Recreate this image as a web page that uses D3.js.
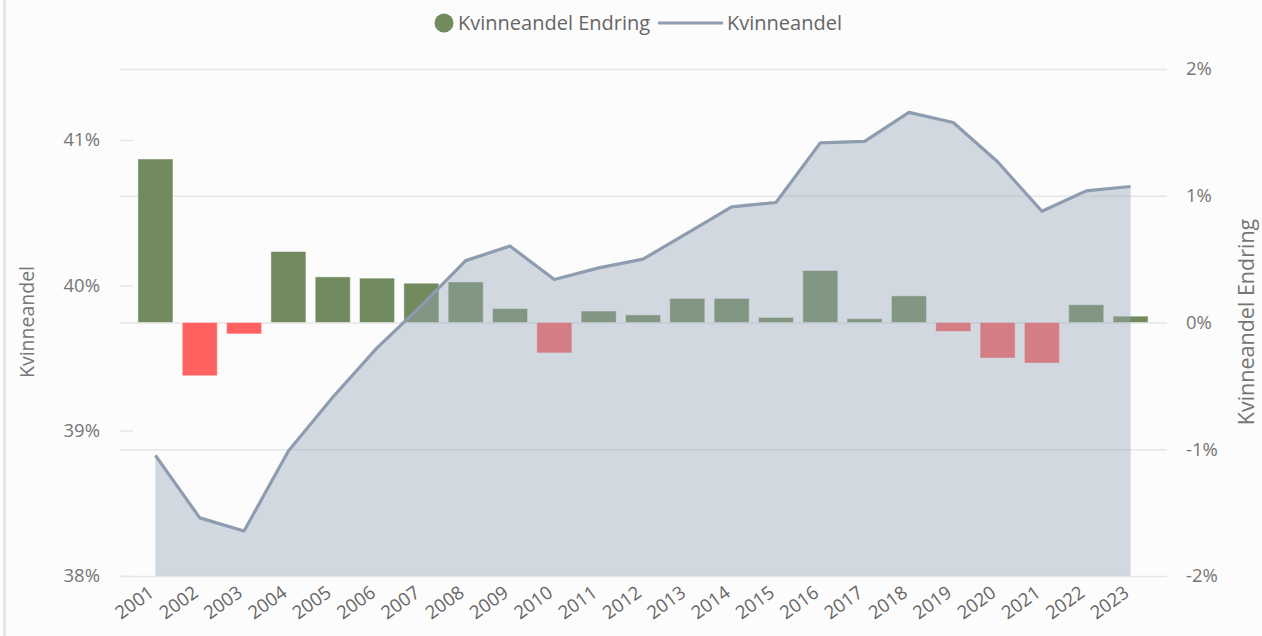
<!DOCTYPE html>
<html>
<head>
<meta charset="utf-8">
<script src="https://cdn.jsdelivr.net/npm/d3@7"></script>
<style>
  html, body { margin: 0; padding: 0; background: #fcfcfc; }
  svg { display: block; font-family: "Open Sans", "Noto Sans", sans-serif; }
</style>
</head>
<body>
<svg id="chart" width="1262" height="636"></svg>
<script>
// Year categories
const years = ["2001","2002","2003","2004","2005","2006","2007","2008","2009","2010","2011","2012",
               "2013","2014","2015","2016","2017","2018","2019","2020","2021","2022","2023"];
// Share of women (%), left axis
const kvinneandel = [38.83, 38.40, 38.31, 38.86, 39.23, 39.57, 39.86, 40.17, 40.27, 40.04, 40.12, 40.18,
                     40.36, 40.54, 40.57, 40.98, 40.99, 41.19, 41.12, 40.85, 40.51, 40.65, 40.68];
// Yearly change (percentage points), right axis
const endring = [1.29, -0.42, -0.09, 0.56, 0.36, 0.35, 0.31, 0.32, 0.11, -0.24, 0.09, 0.06,
                 0.19, 0.19, 0.04, 0.41, 0.03, 0.21, -0.07, -0.28, -0.32, 0.14, 0.05];
// Axis ticks
const leftTicks = [38, 39, 40, 41];
const rightTicks = [-2, -1, 0, 1, 2];

const svg = d3.select("#chart");
const W = 1262, H = 636;

// left border rule
svg.append("line").attr("x1", 4.5).attr("x2", 4.5).attr("y1", 0).attr("y2", H)
  .attr("stroke", "#e6e6e6").attr("stroke-width", 3);

const x = d3.scaleBand().domain(years).range([133.5, 1152.5]).paddingInner(0.21).paddingOuter(0.1);
const yL = d3.scaleLinear().domain([38, 41]).range([576, 140]);
const yR = d3.scaleLinear().domain([-2, 2]).range([576, 69]);
const cx = d => x(d) + x.bandwidth() / 2;

// gridlines from the right axis
svg.append("g").selectAll("line").data(rightTicks).join("line")
  .attr("x1", 120).attr("x2", 1167)
  .attr("y1", d => yR(d) + 0.5).attr("y2", d => yR(d) + 0.5)
  .attr("stroke", "#e6e6e6").attr("stroke-width", 1.5);

// short ticks for the left axis
svg.append("g").selectAll("line").data(leftTicks).join("line")
  .attr("x1", 120).attr("x2", 133)
  .attr("y1", d => yL(d) + 0.5).attr("y2", d => yL(d) + 0.5)
  .attr("stroke", "#e6e6e6").attr("stroke-width", 1.5);

// change bars
svg.append("g").selectAll("rect").data(years).join("rect")
  .attr("x", d => x(d))
  .attr("width", x.bandwidth())
  .attr("y", (d, i) => yR(Math.max(0, endring[i])))
  .attr("height", (d, i) => Math.abs(yR(endring[i]) - yR(0)))
  .attr("fill", (d, i) => endring[i] >= 0 ? "#718a5e" : "#ff6060")
  .attr("stroke", "rgba(255,255,255,0.45)").attr("stroke-width", 1);

// area under the share line
const area = d3.area().x((d, i) => cx(years[i])).y0(yL(38)).y1(d => yL(d));
svg.append("path").datum(kvinneandel).attr("d", area)
  .attr("fill", "rgb(152,166,184)").attr("fill-opacity", 0.42);

const line = d3.line().x((d, i) => cx(years[i])).y(d => yL(d));
svg.append("path").datum(kvinneandel).attr("d", line)
  .attr("fill", "none").attr("stroke", "#8e9cb0").attr("stroke-width", 3.2)
  .attr("stroke-linejoin", "round");

// left axis labels
svg.append("g").selectAll("text").data(leftTicks).join("text")
  .attr("x", 100).attr("y", d => yL(d)).attr("dy", "0.35em")
  .attr("text-anchor", "end").attr("fill", "#767676").attr("font-size", 18.5)
  .text(d => d + "%");

// right axis labels
svg.append("g").selectAll("text").data(rightTicks).join("text")
  .attr("x", 1186).attr("y", d => yR(d)).attr("dy", "0.35em")
  .attr("text-anchor", "start").attr("fill", "#767676").attr("font-size", 18.5)
  .text(d => d + "%");

// axis titles
svg.append("text").attr("transform", "translate(34,322) rotate(-90)")
  .attr("text-anchor", "middle").attr("fill", "#767676").attr("font-size", 19.5)
  .text("Kvinneandel");
svg.append("text").attr("transform", "translate(1254,322) rotate(-90)")
  .attr("text-anchor", "middle").attr("fill", "#767676").attr("font-size", 21.5)
  .text("Kvinneandel Endring");

// year labels
svg.append("g").selectAll("text").data(years).join("text")
  .attr("transform", d => `translate(${cx(d) - 4},590) rotate(-36)`)
  .attr("text-anchor", "end").attr("dy", "0.35em")
  .attr("fill", "#666666").attr("font-size", 18.5)
  .text(d => d);

// legend
const lg = svg.append("g");
lg.append("circle").attr("cx", 444).attr("cy", 23).attr("r", 9.5).attr("fill", "#718a5e");
lg.append("text").attr("x", 458).attr("y", 23).attr("dy", "0.35em")
  .attr("fill", "#666666").attr("font-size", 20).text("Kvinneandel Endring");
lg.append("line").attr("x1", 658).attr("x2", 723).attr("y1", 23).attr("y2", 23)
  .attr("stroke", "#8e9cb0").attr("stroke-width", 3);
lg.append("text").attr("x", 727).attr("y", 23).attr("dy", "0.35em")
  .attr("fill", "#666666").attr("font-size", 20).text("Kvinneandel");
</script>
</body>
</html>
